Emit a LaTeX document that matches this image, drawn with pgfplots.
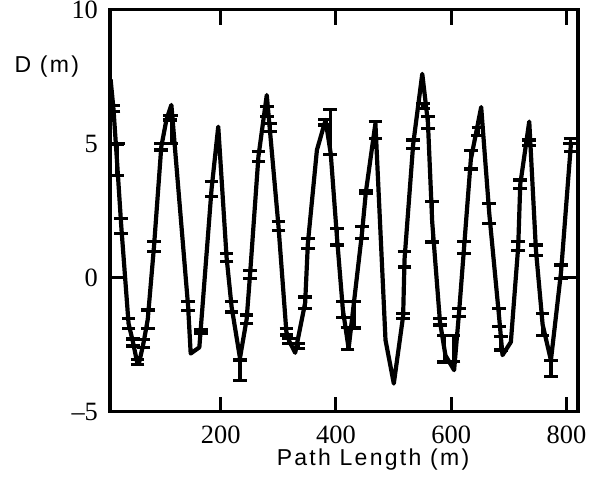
\documentclass[border=0pt]{standalone}
\usepackage{fontspec}
\setmainfont{Liberation Serif}
\newfontfamily\hv{Liberation Sans}[LetterSpace=10.0]
\usepackage{pgfplots}
\usepackage{pgfplotstable}
\pgfplotsset{compat=1.18}

\pgfplotstableread{
x y
9 7.4
14 6.3
20 4.4
27.5 1.93
40.2 -1.71
48 -2.42
55 -3.15
58 -3.22
66 -2.45
73.5 -1.56
84.3 1.15
97 4.88
106 5.9
114.5 6.44
143.5 -1.06
148 -2.83
163 -2.6
184.2 3.3
195.8 5.63
210.3 0.75
219 -1.09
233.5 -3.0
245.1 -1.55
251 0.12
265.5 4.51
280 6.81
300.3 1.92
314 -2.02
319 -2.37
329.3 -2.8
346.6 -0.94
351.3 1.28
367 4.76
382 5.88
391 4.62
401.7 1.53
412 -1.19
422 -2.64
445.3 1.68
452 3.2
468.5 5.75
486 -2.33
500.4 -3.95
516.6 -1.43
519 0.68
534 4.97
549.8 7.6
559.6 5.79
567 2.08
580.5 -1.65
590 -2.9
605 -3.45
613.6 -1.3
622.3 1.12
634 4.4
652 6.36
666 2.4
683.2 -1.49
689 -2.89
703.5 -2.4
716.3 1.18
719.8 3.48
735.4 5.82
747 1.03
758.6 -1.75
773 -3.08
790.6 0.22
808 5.07
}\linedata

\pgfplotstableread{
x y e
14 6.3 0.11
20 4.4 0.58
27.5 1.93 0.28
40.2 -1.71 0.19
48 -2.42 0.13
56 -3.15 0.1
66 -2.45 0.15
73.5 -1.56 0.35
84.3 1.15 0.19
97 4.88 0.12
112 5.97 0.09
114.5 5.53 0.53
143.5 -1.06 0.16
166 -2.02 0.07
184.2 3.3 0.28
210.3 0.75 0.16
219 -1.09 0.19
233.5 -3.45 0.38
245.1 -1.55 0.16
251 0.12 0.16
265.5 4.51 0.19
280 6.19 0.19
285.5 5.6 0.16
300.3 1.92 0.16
314 -2.02 0.12
319 -2.37 0.1
335 -2.55 0.09
346.6 -0.94 0.22
351.3 1.28 0.19
381 5.79 0.1
390 5.43 0.85
401.7 1.53 0.31
412 -1.19 0.31
420 -2.27 0.4
432 -1.38 0.5
445.3 1.68 0.22
452 3.2 0.06
468.5 5.5 0.31
516.6 -1.43 0.09
519 0.68 0.28
534 4.97 0.16
551 6.4 0.1
559.6 5.79 0.22
567 2.08 0.75
580.5 -1.65 0.12
588 -2.65 0.5
604 -2.65 0.48
613.6 -1.3 0.16
622.3 1.12 0.22
634 4.4 0.35
647 5.45 0.15
666 2.4 0.37
683.2 -1.49 0.34
686 -2.45 0.25
716.3 1.18 0.16
719.8 3.48 0.16
735 5.03 0.1
747 1.03 0.19
758.6 -1.75 0.4
773 -3.39 0.31
790.6 0.22 0.25
807 4.95 0.25
}\ebdata

\begin{document}
\begin{tikzpicture}
\begin{axis}[
  at={(0,0)}, anchor=south west,
  scale only axis,
  width=234pt, height=201.1pt,
  xmin=8, xmax=820,
  ymin=-5, ymax=10,
  xtick={200,400,600,800},
  xticklabels={200,400,600,800},
  ytick={-5,0,5,10},
  yticklabels={\textendash 5,0,5,10},
  tick align=inside,
  major tick length=7.5pt,
  tick style={line width=1.5pt, black},
  axis line style={line width=1.7pt},
  ticklabel style={font=\fontsize{13.2}{15}\selectfont},
  xticklabel style={yshift=-3.5pt},
  yticklabel style={xshift=-2.5pt},
  /pgf/number format/assume math mode=true,
  xlabel={Path Length (m)},
  ylabel={D (m)},
  xlabel style={font=\hv\fontsize{11.5}{13}\selectfont, at={(axis description cs:0.562,-0.119)}, anchor=center},
  ylabel style={font=\hv\fontsize{11.5}{13}\selectfont, rotate=-90, at={(axis description cs:-0.135,0.858)}, anchor=center},
]
\addplot[black, line width=2.1pt, mark=none, line join=round] table[x=x,y=y] {\linedata};
\addplot[draw=none, no markers,
  error bars/.cd, y dir=both, y explicit,
  error bar style={draw=black, line width=1.6pt},
  error mark options={draw=black, rotate=90, mark size=3.4pt, line width=1.6pt}]
  table[x=x,y=y,y error=e] {\ebdata};
\end{axis}
\pgfresetboundingbox
\path[use as bounding box] (-55pt,-37.15pt) rectangle (246.5pt,205.85pt);
\end{tikzpicture}
\end{document}
